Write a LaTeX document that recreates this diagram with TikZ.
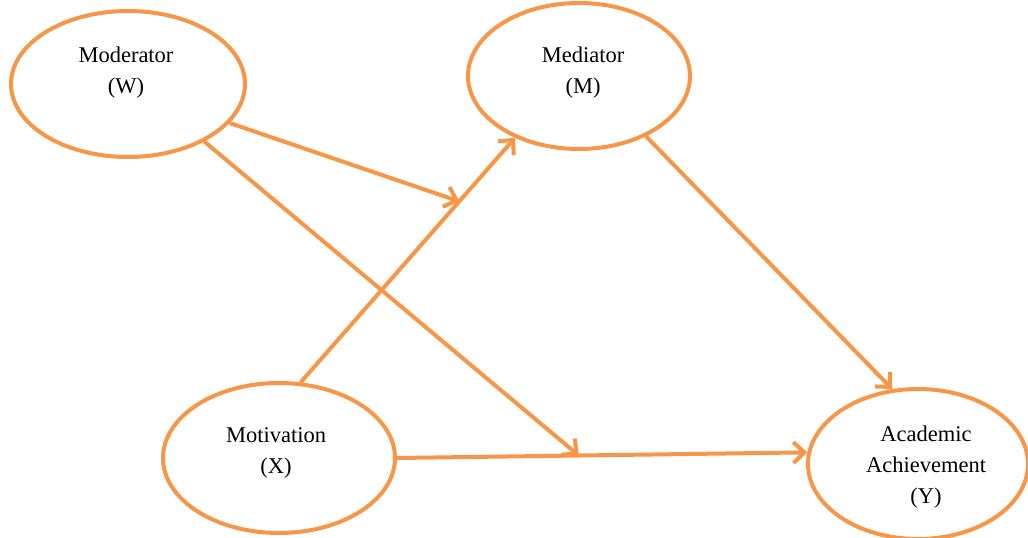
\documentclass[tikz,border=0pt]{standalone}
\usepackage{fontspec}
\setmainfont{Liberation Serif}
\usetikzlibrary{shapes.geometric,arrows.meta,calc}
\definecolor{PathOrange}{HTML}{F79646}

\begin{document}
\begin{tikzpicture}[
  x=1pt,y=-1pt,
  construct/.style={ellipse,draw=PathOrange,line width=4pt,inner sep=0pt},
  label/.style={align=center,font=\fontsize{22.5}{31}\selectfont},
  path/.style={-{Straight Barb[length=11pt,width=21pt,line width=4pt]},
    draw=PathOrange,line width=4pt},
]
\useasboundingbox (0,0) rectangle (1028,538);

% constructs
\node[construct,minimum width=234pt,minimum height=146pt] (W) at (128,84) {};
\node[construct,minimum width=222pt,minimum height=146pt] (M) at (579,76) {};
\node[construct,minimum width=232pt,minimum height=150pt] (X) at (279,458) {};
\node[construct,minimum width=220pt,minimum height=150pt] (Y) at (918,464) {};

\node[label] (Wtxt) at (126,73) {Moderator\\(W)};
\node[label] (Mtxt) at (583,73) {Mediator\\(M)};
\node[label] (Xtxt) at (276,453) {Motivation\\(X)};
\node[label] (Ytxt) at (926,467) {Academic\\Achievement\\(Y)};

% direct and indirect paths
\draw[path] (X.74) -- (M.-136);
\draw[path] (M.-42) -- (Y.109);
\draw[path] (X.east) -- (Y.174);

% moderation onto the paths
\coordinate (onXM) at ($(X.74)!0.74!(M.-136)$);
\coordinate (onXY) at ($(X.east)!0.443!(Y.174)$);
\draw[path] (W.-21) -- (onXM);
\draw[path] (W.-37) -- (onXY);
\end{tikzpicture}
\end{document}
